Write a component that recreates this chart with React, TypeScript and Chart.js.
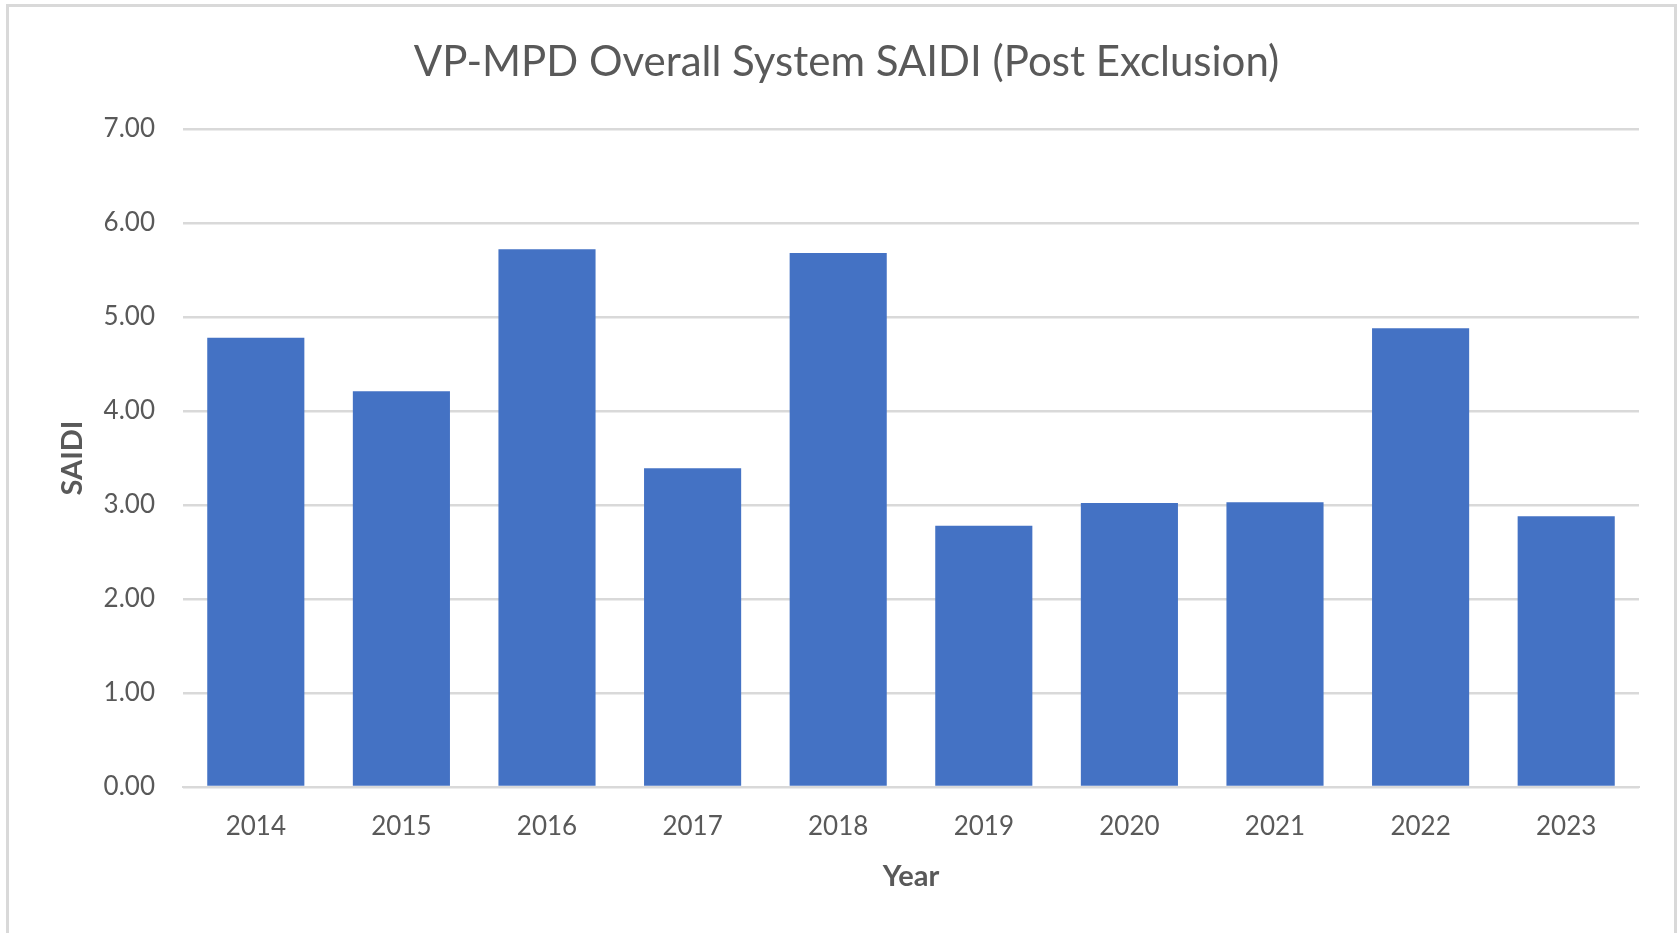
import React, { useEffect, useRef } from "react";
import { Chart, registerables } from "chart.js";

Chart.register(...registerables);

const years: string[] = ["2014", "2015", "2016", "2017", "2018", "2019", "2020", "2021", "2022", "2023"];
const saidi: number[] = [4.78, 4.21, 5.72, 3.39, 5.68, 2.78, 3.02, 3.03, 4.88, 2.88];
const chartTitle = "VP-MPD Overall System SAIDI (Post Exclusion)";
const xTitle = "Year";
const yTitle = "SAIDI";

const GRAY_TEXT = "#595959";
const GRID = "#d9d9d9";
const BAR = "#4472C4";
const FONT = "Lato, 'Noto Sans', sans-serif";

export default function App() {
  const ref = useRef<HTMLCanvasElement | null>(null);

  useEffect(() => {
    const canvas = ref.current;
    if (!canvas) return;
    const chart = new Chart(canvas, {
      type: "bar",
      data: {
        labels: years,
        datasets: [
          {
            label: yTitle,
            data: saidi,
            backgroundColor: BAR,
            borderWidth: 0,
            barPercentage: 0.667,
            categoryPercentage: 1,
          },
        ],
      },
      options: {
        animation: false,
        responsive: false,
        maintainAspectRatio: false,
        layout: { padding: { left: 54, right: 38, top: 0, bottom: 39 } },
        plugins: {
          legend: { display: false },
          tooltip: { enabled: false },
          title: {
            display: true,
            text: chartTitle,
            color: GRAY_TEXT,
            font: { family: FONT, size: 42, weight: "normal" },
            padding: { top: 37, bottom: 41.6 },
          },
        },
        scales: {
          x: {
            grid: { display: false, drawTicks: false },
            border: { display: true, color: GRID, width: 2 },
            ticks: {
              color: GRAY_TEXT,
              font: { family: FONT, size: 26 },
              padding: 24,
              maxRotation: 0,
            },
            title: {
              display: true,
              text: xTitle,
              color: GRAY_TEXT,
              font: { family: FONT, size: 29, weight: "bold" },
              padding: { top: 0, bottom: 0 },
            },
            afterFit: (s: any) => {
              s.height = 107;
            },
          },
          y: {
            min: 0,
            max: 7,
            grid: { color: GRID, lineWidth: 2.5, drawTicks: false },
            border: { display: false },
            ticks: {
              stepSize: 1,
              color: GRAY_TEXT,
              font: { family: FONT, size: 26 },
              padding: 28,
              callback: (v: any) => Number(v).toFixed(2),
            },
            title: {
              display: true,
              text: yTitle,
              color: GRAY_TEXT,
              font: { family: FONT, size: 29, weight: "bold" },
              padding: { top: 1, bottom: 0 },
            },
            afterFit: (s: any) => {
              s.width = 129;
            },
          },
        },
      },
    });
    return () => chart.destroy();
  }, []);

  return (
    <div style={{ position: "fixed", inset: 0, overflow: "hidden", background: "#ffffff" }}>
      <div
        style={{
          position: "absolute",
          left: 6,
          top: 4,
          width: 1671,
          height: 960,
          boxSizing: "border-box",
          borderTop: "3px solid #d9d9d9",
          borderLeft: "3px solid #d9d9d9",
          borderRight: "3px solid #d9d9d9",
        }}
      />
      <canvas
        ref={ref}
        width={1677}
        height={933}
        style={{ position: "absolute", left: 0, top: 0, width: 1677, height: 933 }}
      />
    </div>
  );
}
